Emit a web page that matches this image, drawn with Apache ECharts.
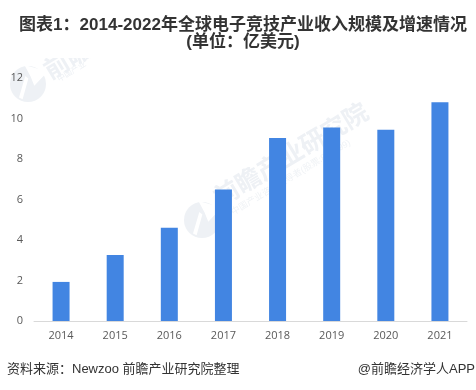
<!DOCTYPE html>
<html><head><meta charset="utf-8">
<style>html,body{margin:0;padding:0;background:#fff}#c{width:476px;height:390px}</style>
<script src="https://cdn.jsdelivr.net/npm/echarts@6/dist/echarts.min.js"></script>
</head><body><div id="c"></div>
<script>
const categories = ['2014','2015','2016','2017','2018','2019','2020','2021'];
const revenue = [1.93,3.26,4.6,6.5,9.04,9.55,9.45,10.8];
const titleLine1 = '图表1\uFF1A2014-2022年全球电子竞技产业收入规模及增速情况';
const titleLine2 = '(单位\uFF1A亿美元)';
const sourceText = '资料来源\uFF1ANewzoo 前瞻产业研究院整理';
const creditText = '@前瞻经济学人APP';
const cjk = '"Liberation Sans","Noto Sans CJK SC",sans-serif';
const wm = '#eef1f5';
const rot = Math.PI*31/180;
function mark(x,y,r){return [
  {type:'circle',z:0,silent:true,shape:{cx:x,cy:y,r:r},style:{fill:wm}},
  {type:'polygon',z:0,silent:true,shape:{points:[[x-r*0.2,y-r*1.05],[x+r*1.1,y-r*0.7],[x+r*0.35,y+r*0.1],[x+r*0.15,y-r*0.4]]},style:{fill:'#fff'}},
  {type:'polygon',z:0,silent:true,shape:{points:[[x-r*0.15,y-r*0.45],[x+r*0.02,y-r*0.3],[x-r*0.3,y+r*0.85],[x-r*0.5,y+r*0.75]]},style:{fill:'#fff'}}
];}
function wmText(t,x,y,size,weight,fill){return {type:'text',z:0,silent:true,x:x,y:y,rotation:rot,
  style:{text:t,font:weight+' '+size+'px '+cjk,fill:fill||wm,textAlign:'left',textVerticalAlign:'middle'}};}
const chart = echarts.init(document.getElementById('c'),null,{renderer:'canvas'});
chart.setOption({
  animation:false,backgroundColor:'#fff',
  title:[
    {text:titleLine1,left:238,top:12,textAlign:'center',textStyle:{fontFamily:cjk,fontSize:17,fontWeight:'bold',color:'#333'}},
    {text:titleLine2,left:238,top:29,textAlign:'center',textStyle:{fontFamily:cjk,fontSize:17,fontWeight:'bold',color:'#333'}}
  ],
  grid:{left:34,right:9,top:78,bottom:69,containLabel:false},
  xAxis:{type:'category',data:categories,
    axisLine:{lineStyle:{color:'#d9d9d9',width:1}},axisTick:{show:false},
    axisLabel:{color:'#595959',fontSize:11,margin:9,fontFamily:'"Open Sans","Liberation Sans",sans-serif'}},
  yAxis:{type:'value',min:0,max:12,interval:2,
    axisLine:{show:false},axisTick:{show:false},splitLine:{show:false},
    axisLabel:{color:'#595959',fontSize:11,margin:11,fontFamily:'"Open Sans","Liberation Sans",sans-serif'}},
  series:[{type:'bar',data:revenue,barWidth:17,itemStyle:{color:'#4285e2'},z:3}],
  graphic:[
    ...mark(28,84,18),
    wmText('前瞻',47,74,25,'bold'),
    wmText('中国产业',58,80,8,'normal'),
    {type:'rect',z:1,silent:true,shape:{x:0,y:0,width:476,height:58},style:{fill:'#fff'}},
    ...mark(202,220,18),
    wmText('前瞻产业研究院',217,201,25,'bold'),
    wmText('中国产业咨询领导者(股票:839599)',232,213,9,'normal','#f0f3f6'),
    {type:'text',x:7,y:369,style:{text:sourceText,font:'13px '+cjk,fill:'#333',textVerticalAlign:'middle'}},
    {type:'text',x:475,y:369,style:{text:creditText,font:'13px '+cjk,fill:'#333',textAlign:'right',textVerticalAlign:'middle'}}
  ]
});
</script></body></html>
